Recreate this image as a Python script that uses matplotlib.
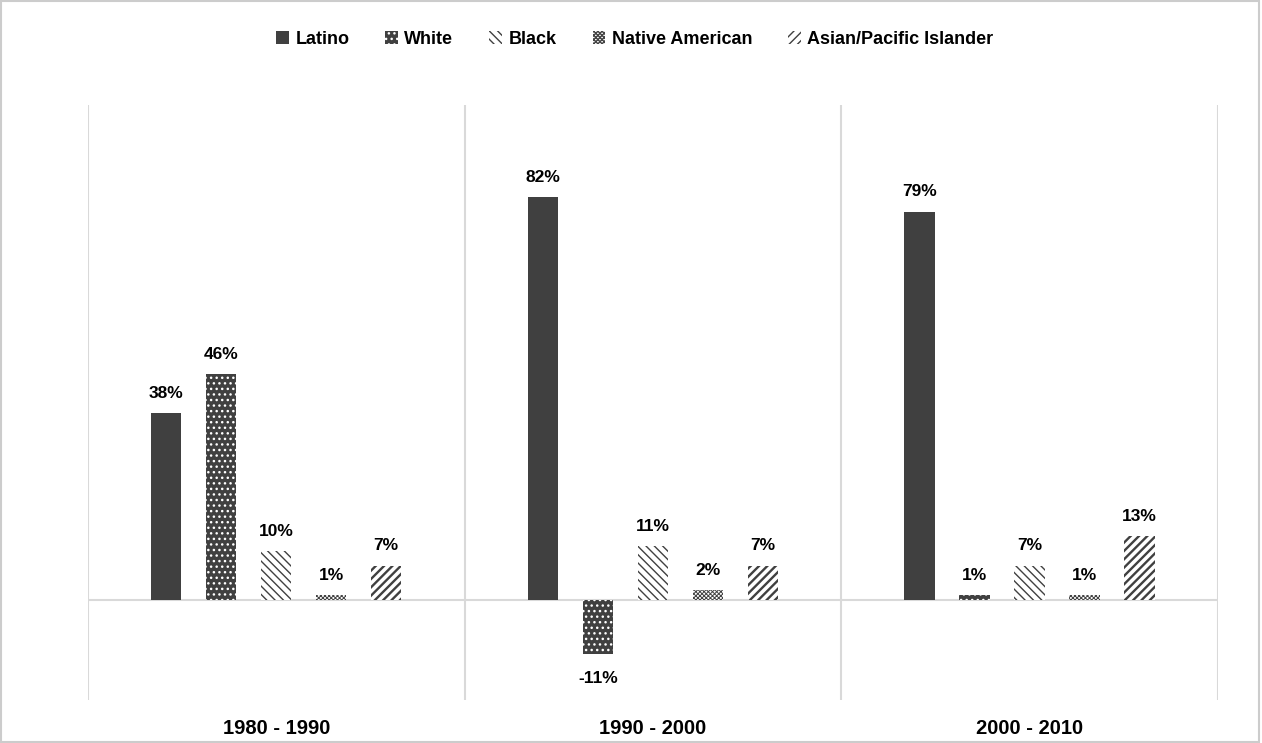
import numpy as np
import matplotlib.pyplot as plt
from matplotlib.patches import Rectangle

plt.rcParams['font.family'] = ['Liberation Sans', 'DejaVu Sans']

periods = ['1980 - 1990', '1990 - 2000', '2000 - 2010']
groups = ['Latino', 'White', 'Black', 'Native American', 'Asian/Pacific Islander']
latino = [38, 82, 79]
white = [46, -11, 1]
black = [10, 11, 7]
native = [1, 2, 1]
asian = [7, 7, 13]

series = [latino, white, black, native, asian]
dark = '#404040'
# face, hatch, hatch colour, hatch width
styles = [
    (dark, None, dark, 1.0),
    (dark, '...', 'white', 1.0),
    ('white', '\\\\\\\\', dark, 1.0),
    ('white', 'xxxxxxxx', '#444444', 0.7),
    ('white', '////', dark, 1.7),
]

fig = plt.figure(figsize=(12.62, 7.43), dpi=100)
ax = fig.add_axes([0.0697, 0.0579, 0.8953, 0.8008])

n = len(periods)
x = np.arange(n)
step = 0.146
w = 0.08
handles = []
for i, (vals, (fc, hatch, hc, hlw)) in enumerate(zip(series, styles)):
    pos = x + (i - 2) * step
    with plt.rc_context({'hatch.linewidth': hlw}):
        bars = ax.bar(pos, vals, w, color=fc, edgecolor=hc, linewidth=0,
                      hatch=hatch, label=groups[i])
    for b in bars:
        if hasattr(b, 'set_hatch_linewidth'):
            b.set_hatch_linewidth(hlw)
    handles.append(bars)
    for p, v in zip(pos, vals):
        if v >= 0:
            ax.text(p, v + 2.5, f'{v}%', ha='center', va='bottom',
                    fontsize=12.5, fontweight='bold', color='black')
        else:
            ax.text(p, v - 3.5, f'{v}%', ha='center', va='top',
                    fontsize=12.5, fontweight='bold', color='black')

ax.set_xlim(-0.5, n - 0.5)
ax.set_ylim(-20.3, 100.7)
ax.axhline(0, color='#d9d9d9', lw=1.5, zorder=0)
for xv in np.arange(n + 1) - 0.5:
    ax.axvline(xv, color='#d9d9d9', lw=1.5, zorder=0)
for s in ax.spines.values():
    s.set_visible(False)
ax.set_yticks([])
ax.set_xticks(x)
ax.set_xticklabels(periods, fontsize=14.5, fontweight='bold')
ax.tick_params(axis='x', length=0, pad=14)

fig.legend(handles=handles, labels=groups, loc='center', bbox_to_anchor=(0.503, 0.947),
           ncol=5, frameon=False, handlelength=0.7, handleheight=0.7,
           handletextpad=0.35, columnspacing=2.0,
           prop={'size': 13, 'weight': 'bold'})

fig.patches.append(Rectangle((0.001, 0.002), 0.997, 0.996, transform=fig.transFigure,
                             fill=False, edgecolor='#cccccc', lw=1.5))

fig.savefig('out.png', dpi=100)
